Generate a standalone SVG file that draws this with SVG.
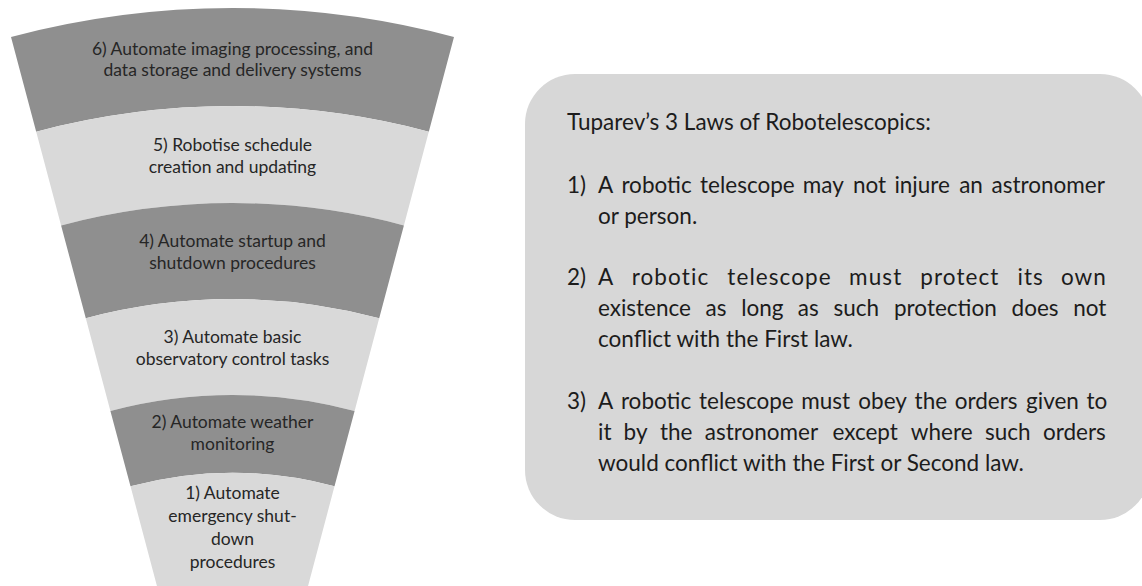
<svg xmlns="http://www.w3.org/2000/svg" width="1142" height="586" viewBox="0 0 1142 586">
  <style>
    .dark { fill: #8f8f8f; }
    .light { fill: #d9d9d9; }
    .ft { font-family: Lato, "Liberation Sans", sans-serif; font-size: 17.5px; fill: #262626; text-anchor: middle; }
    .bt { font-family: Lato, "Liberation Sans", sans-serif; font-size: 22.5px; fill: #1c1c1c; }
  </style>
  <rect width="1142" height="586" fill="#ffffff"/>

  <!-- Funnel: annular sectors around (232.5, 870) -->
  <g id="step6">
    <path class="dark" d="M11,37 A862,862 0 0 1 454,37 L428.8,131.7 A764,764 0 0 0 36.2,131.7 Z"/>
    <text class="ft" x="232.5" y="55">6) Automate imaging processing, and</text>
    <text class="ft" x="232.5" y="76">data storage and delivery systems</text>
  </g>
  <g id="step5">
    <path class="light" d="M36.2,131.7 A764,764 0 0 1 428.8,131.7 L403.9,225.4 A667,667 0 0 0 61.1,225.4 Z"/>
    <text class="ft" x="232.5" y="151">5) Robotise schedule</text>
    <text class="ft" x="232.5" y="173">creation and updating</text>
  </g>
  <g id="step4">
    <path class="dark" d="M61.1,225.4 A667,667 0 0 1 403.9,225.4 L379.2,318.2 A571,571 0 0 0 85.8,318.2 Z"/>
    <text class="ft" x="232.5" y="247">4) Automate startup and</text>
    <text class="ft" x="232.5" y="269">shutdown procedures</text>
  </g>
  <g id="step3">
    <path class="light" d="M85.8,318.2 A571,571 0 0 1 379.2,318.2 L354.6,411 A475,475 0 0 0 110.4,411 Z"/>
    <text class="ft" x="232.5" y="343">3) Automate basic</text>
    <text class="ft" x="232.5" y="365">observatory control tasks</text>
  </g>
  <g id="step2">
    <path class="dark" d="M110.4,411 A475,475 0 0 1 354.6,411 L334.5,486.3 A397,397 0 0 0 130.5,486.3 Z"/>
    <text class="ft" x="232.5" y="428">2) Automate weather</text>
    <text class="ft" x="232.5" y="450">monitoring</text>
  </g>
  <g id="step1">
    <path class="light" d="M130.5,486.3 A397,397 0 0 1 334.5,486.3 L296.8,628.4 A250,250 0 0 0 168.2,628.4 Z"/>
    <text class="ft" x="232.5" y="499">1) Automate</text>
    <text class="ft" x="232.5" y="522">emergency shut-</text>
    <text class="ft" x="232.5" y="545">down</text>
    <text class="ft" x="232.5" y="568">procedures</text>
  </g>

  <!-- Laws panel: justified lines are set word by word -->
  <g id="laws">
    <rect x="525" y="74" width="625" height="446" rx="50" ry="50" fill="#d7d7d7"/>
    <text class="bt" x="567" y="130">Tuparev’s 3 Laws of Robotelescopics:</text>

    <text class="bt" x="567" y="193">1)</text>
    <text class="bt" y="193"><tspan x="598">A</tspan><tspan x="621.4">robotic</tspan><tspan x="700.1">telescope</tspan><tspan x="802.8">may</tspan><tspan x="852.9">not</tspan><tspan x="894.4">injure</tspan><tspan x="959.2">an</tspan><tspan x="991.5">astronomer</tspan></text>
    <text class="bt" x="598" y="224">or person.</text>

    <text class="bt" x="567" y="285">2)</text>
    <text class="bt" y="285" letter-spacing="1.1"><tspan x="598">A</tspan><tspan x="631.7">robotic</tspan><tspan x="727.3">telescope</tspan><tspan x="849.1">must</tspan><tspan x="920.2">protect</tspan><tspan x="1017.4">its</tspan><tspan x="1060.9">own</tspan></text>
    <text class="bt" y="316"><tspan x="598">existence</tspan><tspan x="705.6">as</tspan><tspan x="741.2">long</tspan><tspan x="797.8">as</tspan><tspan x="833.4">such</tspan><tspan x="894">protection</tspan><tspan x="1011.6">does</tspan><tspan x="1073.2">not</tspan></text>
    <text class="bt" x="598" y="347">conflict with the First law.</text>

    <text class="bt" x="567" y="409">3)</text>
    <text class="bt" y="409"><tspan x="598">A</tspan><tspan x="620.9">robotic</tspan><tspan x="699.1">telescope</tspan><tspan x="801.3">must</tspan><tspan x="858.3">obey</tspan><tspan x="914.6">the</tspan><tspan x="954.7">orders</tspan><tspan x="1026.1">given</tspan><tspan x="1086.5">to</tspan></text>
    <text class="bt" y="440"><tspan x="598">it</tspan><tspan x="623.6">by</tspan><tspan x="660">the</tspan><tspan x="704.8">astronomer</tspan><tspan x="832.5">except</tspan><tspan x="910.8">where</tspan><tspan x="985">such</tspan><tspan x="1043">orders</tspan></text>
    <text class="bt" x="598" y="471">would conflict with the First or Second law.</text>
  </g>
</svg>
